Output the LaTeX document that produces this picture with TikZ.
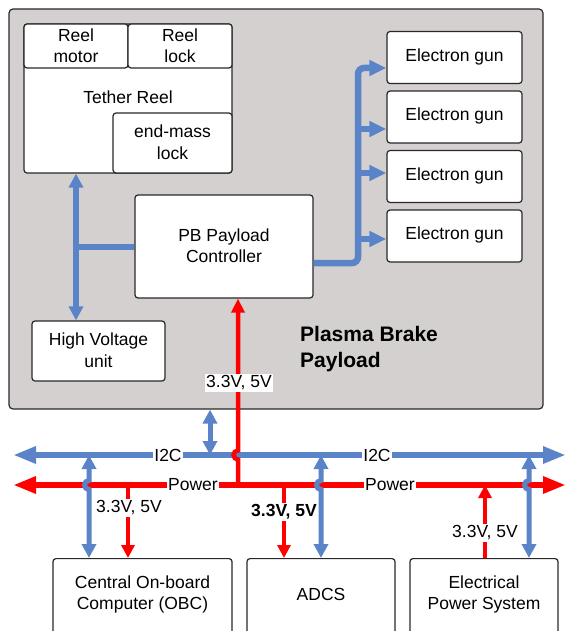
\documentclass[tikz,border=0pt]{standalone}
\usepackage{fontspec}
\setmainfont{Liberation Sans}
\usetikzlibrary{arrows.meta,calc}
\definecolor{cblue}{RGB}{91,132,200}
\definecolor{cred}{RGB}{255,0,0}
\definecolor{cgray}{RGB}{212,208,208}
\definecolor{cedge}{RGB}{40,40,40}
\begin{document}
\begin{tikzpicture}[x=1pt,y=-1pt,
  font=\fontsize{17.5}{21.5}\selectfont,
  box/.style={draw=cedge, fill=white, rounded corners=3pt, line width=1.2pt, inner sep=0pt},
  txt/.style={align=center, inner sep=0pt, yshift=-1.5pt},
  lbl/.style={fill=white, inner sep=1.5pt, text=black},
  bluebus/.style={draw=cblue, line width=6pt},
  bluev/.style={draw=cblue, line width=5pt},
  bluethick/.style={draw=cblue, line width=6.5pt},
  redbus/.style={draw=cred, line width=6.5pt},
  redv/.style={draw=cred, line width=4.5pt},
  bigtip/.style={arrows={Triangle[length=23pt,width=16pt]-Triangle[length=23pt,width=16pt]}},
  bothtip/.style={arrows={Triangle[length=14pt,width=14pt]-Triangle[length=14pt,width=14pt]}},
  guntip/.style={arrows={-Triangle[length=17pt,width=15pt]}},
  redtip/.style={arrows={-Triangle[length=13pt,width=13pt]}},
  ]
\useasboundingbox (0,0) rectangle (567,631);
\clip (0,0) rectangle (567,631);

% outer payload box
\node[draw=cedge, fill=cgray, rounded corners=4pt, line width=1.2pt, minimum width=534pt, minimum height=400pt, inner sep=0pt] (payload) at (276,209) {};
\node[txt, anchor=west, align=left, font=\fontsize{21}{26}\selectfont\bfseries] (pbp) at (300,348) {Plasma Brake\\Payload};

% tether reel group
\node[box, minimum width=208pt, minimum height=149pt] (reel) at (128,98.5) {};
\node[txt] (reelt) at (128,96) {Tether Reel};
\node[box, minimum width=104pt, minimum height=44pt] (motor) at (76,46) {};
\node[txt] (motort) at (76,44) {Reel\\motor};
\node[box, minimum width=104pt, minimum height=44pt] (lock) at (180,46) {};
\node[txt] (lockt) at (180,44) {Reel\\lock};
\node[box, minimum width=119pt, minimum height=60pt] (eml) at (172.5,143) {};
\node[txt] (emlt) at (172.5,140.5) {end-mass\\lock};

% controller, HV unit
\node[box, minimum width=178pt, minimum height=103pt] (ctrl) at (224,246.5) {};
\node[txt] (ctrlt) at (224,244) {PB Payload\\Controller};
\node[box, minimum width=133pt, minimum height=60pt] (hv) at (98.5,351) {};
\node[txt] (hvt) at (98.5,348.5) {High Voltage\\unit};

% electron guns
\node[box, minimum width=135pt, minimum height=52pt] (gun1) at (454.5,57.5) {};
\node[txt] (gun1t) at (454.5,55) {Electron gun};
\node[box, minimum width=135pt, minimum height=52pt] (gun2) at (454.5,117) {};
\node[txt] (gun2t) at (454.5,114.5) {Electron gun};
\node[box, minimum width=135pt, minimum height=52pt] (gun3) at (454.5,176.5) {};
\node[txt] (gun3t) at (454.5,174) {Electron gun};
\node[box, minimum width=135pt, minimum height=52pt] (gun4) at (454.5,236) {};
\node[txt] (gun4t) at (454.5,233.5) {Electron gun};

% bottom subsystems
\node[box, minimum width=179pt, minimum height=100pt, anchor=north] (obc) at (142.5,558) {};
\node[txt] (obct) at (142.5,593) {Central On-board\\Computer (OBC)};
\node[box, minimum width=148pt, minimum height=100pt, anchor=north] (adcs) at (321,558) {};
\node[txt] (adcst) at (321,593) {ADCS};
\node[box, minimum width=148pt, minimum height=100pt, anchor=north] (eps) at (484,558) {};
\node[txt] (epst) at (484,593) {Electrical\\Power System};

% internal blue connections
\coordinate (tx) at (76,247);
\draw[bluethick, bothtip] (tx |- reel.south) -- (tx |- hv.north);
\draw[bluethick] (tx) -- (tx -| ctrl.west);

\coordinate (gb) at (358,263);
\draw[bluethick, rounded corners=6pt, guntip] (gb -| ctrl.east) -- (gb) -- (358,68) -- (gun1.west |- 0,68);
\draw[bluethick, guntip] (358,129) -- (gun2.west |- 0,129);
\draw[bluethick, guntip] (358,173) -- (gun3.west |- 0,173);
\draw[bluethick, guntip] (358,239) -- (gun4.west |- 0,239);

% buses
\coordinate (i2cW) at (13,455);
\coordinate (i2cE) at (566,455);
\coordinate (pwW) at (13,485);
\coordinate (pwE) at (566,485);
\draw[bluebus, bigtip] (i2cW) -- (i2cE);
\draw[redbus, bigtip] (pwW) -- (pwE);

% payload <-> I2C
\coordinate (pi) at (210,455);
\draw[bluev, bothtip] (pi |- payload.south) -- (pi);

% red power to controller with jump over I2C
\coordinate (pc) at (238,485);
\draw[redv, arrows={-Triangle[length=14pt,width=13pt]}] (pc) -- (238,459.5) arc[start angle=90, end angle=270, radius=4.5] -- (pc |- ctrl.south);
\node[lbl] (lblc) at (239,383) {3.3V, 5V};

% OBC
\coordinate (oi) at (89,455);
\draw[bluev, bothtip] (oi) -- (89,480.5) arc[start angle=270, end angle=90, radius=4.5] -- (oi |- obc.north);
\coordinate (op) at (128,485);
\draw[redv, redtip] (op) -- (op |- obc.north);
\node[lbl] (lblo) at (129,508) {3.3V, 5V};

% ADCS
\coordinate (ap) at (284,485);
\draw[redv, redtip] (ap) -- (ap |- adcs.north);
\node[lbl, font=\fontsize{17.5}{21.5}\selectfont\bfseries] (lbla) at (284,512) {3.3V, 5V};
\coordinate (ai) at (321,455);
\draw[bluev, bothtip] (ai) -- (321,480.5) arc[start angle=270, end angle=90, radius=4.5] -- (ai |- adcs.north);

% EPS
\coordinate (ep) at (485,485);
\draw[redv, redtip] (ep |- eps.north) -- (ep);
\node[lbl] (lble) at (485,533) {3.3V, 5V};
\coordinate (ei) at (529,455);
\draw[bluev, bothtip] (ei) -- (529,480.5) arc[start angle=270, end angle=90, radius=4.5] -- (ei |- eps.north);

% bus labels
\node[lbl] (i2c1) at (168,455) {I2C};
\node[lbl] (i2c2) at (377,455) {I2C};
\node[lbl] (pw1) at (193,485) {Power};
\node[lbl] (pw2) at (390,485) {Power};
\end{tikzpicture}
\end{document}
